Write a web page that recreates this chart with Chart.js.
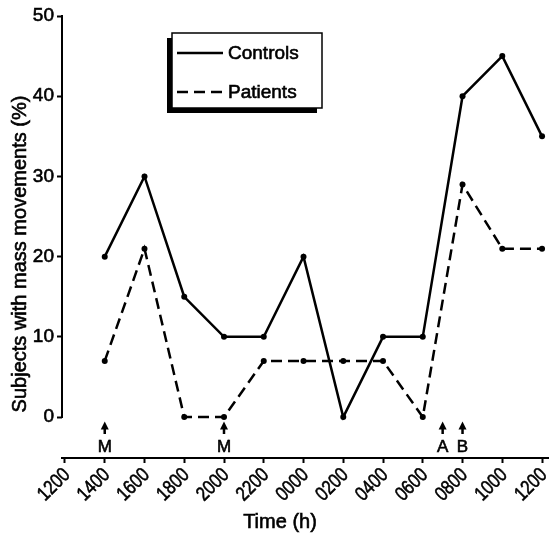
<!DOCTYPE html>
<html><head><meta charset="utf-8">
<script src="https://cdn.jsdelivr.net/npm/chart.js@4/dist/chart.umd.min.js"></script>
<style>html,body{margin:0;padding:0;background:#fff;}#wrap{width:553px;height:534px;}</style>
</head><body><div id="wrap"><canvas id="c" width="553" height="534"></canvas></div>
<script>
// Time of each observation, in hours after 1200 on day 1
const hours = [2, 4, 6, 8, 10, 12, 14, 16, 18, 20, 22, 24];
const controls = [20, 30, 15, 10, 10, 20, 0, 10, 10, 40, 45, 35];
const patients = [7, 21, 0, 0, 7, 7, 7, 7, 0, 29, 21, 21];
const seriesNames = ['Controls', 'Patients'];
const xTickHours = [0, 2, 4, 6, 8, 10, 12, 14, 16, 18, 20, 22, 24];
const xTickLabels = ['1200', '1400', '1600', '1800', '2000', '2200', '0000', '0200', '0400', '0600', '0800', '1000', '1200'];
const yTicks = [0, 10, 20, 30, 40, 50];
const markerHours = [2, 8, 19, 20];
const markerLabels = ['M', 'M', 'A', 'B'];
const xTitle = 'Time (h)';
const yTitle = 'Subjects with mass movements (%)';

const FONT = '"Liberation Sans", Arial, sans-serif';
const ctxEl = document.getElementById('c');

function heavyText(ctx, txt, x, y) {
  ctx.fillText(txt, x, y);
  ctx.strokeText(txt, x, y);
}

const decor = {
  id: 'decor',
  afterDraw(chart) {
    const ctx = chart.ctx;
    const xs = chart.scales.x, ys = chart.scales.y;
    const ca = chart.chartArea;
    ctx.save();
    ctx.strokeStyle = '#000'; ctx.fillStyle = '#000';
    // y axis line from 0 to 50
    ctx.lineWidth = 2;
    ctx.beginPath();
    ctx.moveTo(ca.left, ys.getPixelForValue(yTicks[0]) + 1);
    ctx.lineTo(ca.left, ys.getPixelForValue(yTicks[yTicks.length - 1]) - 1);
    ctx.stroke();
    // x tick labels, rotated 45 degrees, condensed
    ctx.font = '20px ' + FONT;
    ctx.textAlign = 'right'; ctx.textBaseline = 'middle';
    ctx.lineWidth = 0.6;
    xTickHours.forEach((h, i) => {
      const x = xs.getPixelForValue(h);
      ctx.save();
      ctx.translate(x + 2, ca.bottom + 14);
      ctx.rotate(-Math.PI / 4);
      ctx.scale(0.82, 1);
      heavyText(ctx, xTickLabels[i], 0, 0);
      ctx.restore();
    });
    // event markers
    ctx.font = '17px ' + FONT;
    ctx.textAlign = 'center'; ctx.textBaseline = 'middle';
    markerHours.forEach((h, i) => {
      const x = xs.getPixelForValue(h);
      ctx.beginPath();
      ctx.moveTo(x, 421.5); ctx.lineTo(x - 4, 429.5); ctx.lineTo(x + 4, 429.5); ctx.closePath(); ctx.fill();
      ctx.lineWidth = 2.5;
      ctx.beginPath(); ctx.moveTo(x, 428); ctx.lineTo(x, 434); ctx.stroke();
      ctx.lineWidth = 0.6;
      heavyText(ctx, markerLabels[i], x, 447);
    });
    // legend box with shadow
    const bx = 172, by = 33, bw = 150, bh = 75;
    ctx.fillRect(bx - 5, by + 5, bw, bh);
    ctx.fillStyle = '#fff'; ctx.fillRect(bx, by, bw, bh);
    ctx.fillStyle = '#000';
    ctx.lineWidth = 1.5; ctx.strokeRect(bx, by, bw, bh);
    const ds = chart.data.datasets;
    const rows = [53, 92];
    ctx.font = '19px ' + FONT;
    ctx.textAlign = 'left';
    rows.forEach((y, i) => {
      ctx.lineWidth = ds[i].borderWidth;
      ctx.setLineDash(ds[i].borderDash || []);
      ctx.beginPath(); ctx.moveTo(177, y); ctx.lineTo(223, y); ctx.stroke();
      ctx.setLineDash([]);
      ctx.lineWidth = 0.6;
      heavyText(ctx, seriesNames[i], 228, y + 1);
    });
    // axis titles
    ctx.textAlign = 'center';
    ctx.font = '20px ' + FONT;
    heavyText(ctx, xTitle, 280, 522);
    ctx.translate(20, 254); ctx.rotate(-Math.PI / 2);
    heavyText(ctx, yTitle, 0, 0);
    ctx.restore();
  }
};

new Chart(ctxEl, {
  type: 'line',
  data: {
    datasets: [
      { label: seriesNames[0], data: hours.map((h, i) => ({ x: h, y: controls[i] })),
        borderColor: '#000', borderWidth: 2.5, pointRadius: 3, pointBackgroundColor: '#000', pointBorderWidth: 0, tension: 0 },
      { label: seriesNames[1], data: hours.map((h, i) => ({ x: h, y: patients[i] })),
        borderColor: '#000', borderWidth: 2.5, borderDash: [11, 6], pointRadius: 3, pointBackgroundColor: '#000', pointBorderWidth: 0, tension: 0 }
    ]
  },
  options: {
    responsive: false, animation: false, devicePixelRatio: 1,
    layout: { padding: { top: 16, right: 5, left: 0, bottom: 0 } },
    plugins: { legend: { display: false }, tooltip: { enabled: false } },
    scales: {
      x: {
        type: 'linear', min: -0.15, max: 24.3,
        afterBuildTicks: s => { s.ticks = xTickHours.map(v => ({ value: v })); },
        afterFit: s => { s.height = 76; },
        ticks: { display: false },
        grid: { drawOnChartArea: false, drawTicks: true, tickLength: 5, tickWidth: 2, color: '#000' },
        border: { display: true, width: 2, color: '#000' }
      },
      y: {
        type: 'linear', min: -5.1, max: 50,
        afterBuildTicks: s => { s.ticks = yTicks.map(v => ({ value: v })); },
        afterFit: s => { s.width = 62; },
        ticks: { color: '#000', font: { family: FONT, size: 19 }, padding: 3, textStrokeColor: '#000', textStrokeWidth: 0.6 },
        grid: { drawOnChartArea: false, drawTicks: true, tickLength: 5, tickWidth: 2, color: '#000' },
        border: { display: false }
      }
    }
  },
  plugins: [decor]
});
</script></body></html>
